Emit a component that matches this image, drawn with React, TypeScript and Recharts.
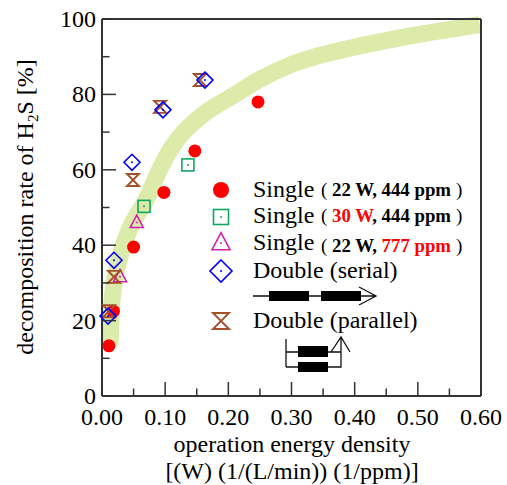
import { ComposedChart, Line, Scatter, XAxis, YAxis } from "recharts";

const xTicks = [0, 0.05, 0.1, 0.15, 0.2, 0.25, 0.3, 0.35, 0.4, 0.45, 0.5, 0.55, 0.6];
const yTicks = [0, 10, 20, 30, 40, 50, 60, 70, 80, 90, 100];

const bandX = [0.0127, 0.016, 0.025, 0.041, 0.0697, 0.0934, 0.1077, 0.155, 0.207, 0.25, 0.298, 0.393, 0.472, 0.598];
const bandY = [13.5, 25.5, 34.7, 43.2, 52, 60.8, 65.2, 74, 79.6, 84, 87.8, 92.3, 95, 98.5];

const single22X = [0.011, 0.018, 0.05, 0.098, 0.147, 0.247];
const single22Y = [13.3, 22.5, 39.5, 54, 65, 78];
const single30X = [0.0665, 0.136];
const single30Y = [50.3, 61.3];
const single777X = [0.0285, 0.055];
const single777Y = [31.6, 46];
const serialX = [0.0095, 0.019, 0.0475, 0.0965, 0.163];
const serialY = [21.2, 36, 62, 75.9, 83.8];
const parallelX = [0.011, 0.019, 0.049, 0.092, 0.155];
const parallelY = [22.5, 31.6, 57.3, 76.7, 83.8];

const zip = (xs: number[], ys: number[]) => xs.map((x, i) => ({ x, y: ys[i] }));

const FONT = "'Liberation Serif', serif";
const AXIS = "#333";
const RED = "#ff0000";
const GREEN = "#10a860";
const MAGENTA = "#d020b0";
const BLUE = "#0000ff";
const BROWN = "#a5502a";

function Circle({ cx, cy, r = 6.5 }: any) {
  return <circle cx={cx} cy={cy} r={r} fill={RED} />;
}
function Square({ cx, cy, s = 6 }: any) {
  return (
    <g>
      <rect x={cx - s} y={cy - s} width={s * 2} height={s * 2} fill="none" stroke={GREEN} strokeWidth={1.6} />
      <circle cx={cx} cy={cy} r={1} fill={GREEN} />
    </g>
  );
}
function Triangle({ cx, cy, s = 6.5 }: any) {
  return (
    <g>
      <path d={`M${cx},${cy - s * 1.15}L${cx + s},${cy + s * 0.75}L${cx - s},${cy + s * 0.75}Z`} fill="none" stroke={MAGENTA} strokeWidth={1.6} />
      <circle cx={cx} cy={cy} r={1} fill={MAGENTA} />
    </g>
  );
}
function Diamond({ cx, cy, s = 8 }: any) {
  return (
    <g>
      <path d={`M${cx},${cy - s}L${cx + s},${cy}L${cx},${cy + s}L${cx - s},${cy}Z`} fill="none" stroke={BLUE} strokeWidth={1.6} />
      <circle cx={cx} cy={cy} r={1} fill={BLUE} />
    </g>
  );
}
function Hourglass({ cx, cy, s = 6 }: any) {
  return (
    <path
      d={`M${cx - s},${cy - s}L${cx + s},${cy - s}L${cx - s},${cy + s}L${cx + s},${cy + s}Z`}
      fill="none"
      stroke={BROWN}
      strokeWidth={1.9}
    />
  );
}

const isMajorX = (v: number) => Math.round(v * 100) % 10 === 0;
const isMajorY = (v: number) => v % 20 === 0;

function XTick({ x, y, payload, top }: any) {
  const len = isMajorX(payload.value) ? 14 : 7.5;
  return (
    <g>
      <line x1={x} x2={x} y1={y} y2={top ? y + len : y - len} stroke={AXIS} strokeWidth={1.5} />
      {!top && isMajorX(payload.value) && (
        <text x={x} y={y + 29} textAnchor="middle" fontFamily={FONT} fontSize={24} fill="#000">
          {payload.value.toFixed(2)}
        </text>
      )}
    </g>
  );
}

function YTick({ x, y, payload, right }: any) {
  const len = isMajorY(payload.value) ? 14 : 7.5;
  return (
    <g>
      <line x1={x} x2={right ? x - len : x + len} y1={y} y2={y} stroke={AXIS} strokeWidth={1.5} />
      {!right && isMajorY(payload.value) && (
        <text x={x - 6} y={y + 8} textAnchor="end" fontFamily={FONT} fontSize={24} fill="#000">
          {payload.value}
        </text>
      )}
    </g>
  );
}

function Overlay() {
  const t = { fontFamily: FONT, fontSize: 24, fill: "#000" };
  const b = { fontFamily: FONT, fontSize: 18.8, fontWeight: 700, fill: "#000" };
  const p = { fontFamily: FONT, fontSize: 19, fill: "#000" };
  return (
    <svg width={507} height={485} style={{ position: "absolute", left: 0, top: 0 }}>
      <Circle cx={221} cy={190} r={8} />
      <Square cx={221} cy={217} s={7.5} />
      <Triangle cx={221} cy={243} s={9} />
      <Diamond cx={221} cy={271} s={11} />
      <Hourglass cx={221} cy={321} s={8} />

      <text x={253} y={197} {...t}>Single</text>
      <text x={253} y={223} {...t}>Single</text>
      <text x={253} y={250} {...t}>Single</text>
      <text x={253} y={278} {...t}>Double (serial)</text>
      <text x={253} y={328} {...t}>Double (parallel)</text>

      <text x={321} y={196} {...p}>(</text>
      <text x={332} y={196} {...b}>22 W, 444 ppm</text>
      <text x={456} y={196} {...p}>)</text>
      <text x={321} y={222} {...p}>(</text>
      <text x={332} y={222} {...b}><tspan fill={RED}>30 W</tspan>, 444 ppm</text>
      <text x={456} y={222} {...p}>)</text>
      <text x={321} y={252} {...p}>(</text>
      <text x={332} y={252} {...b}>22 W, <tspan fill={RED}>777 ppm</tspan></text>
      <text x={456} y={252} {...p}>)</text>

      <g stroke="#111" strokeWidth={1.3} fill="none">
        <path d="M253,296H376M359,287L376,296L359,305" />
        <path d="M286,339V367M286,352H298M286,367H341V337M328,352H341M331,352L341,337L350,352" />
      </g>
      <rect x={269} y={291} width={40} height={10} fill="#000" />
      <rect x={321} y={291} width={40} height={10} fill="#000" />
      <rect x={298} y={346} width={30} height={11} fill="#000" />
      <rect x={298} y={362} width={30} height={10} fill="#000" />

      <text x={292} y={452} textAnchor="middle" fontFamily={FONT} fontSize={24} fill="#000">operation energy density</text>
      <text x={292} y={479} textAnchor="middle" fontFamily={FONT} fontSize={24} fill="#000">[(W) (1/(L/min)) (1/ppm)]</text>
      <text transform="translate(33,207) rotate(-90)" textAnchor="middle" fontFamily={FONT} fontSize={24} fill="#000">
        decomposition rate of H<tspan fontSize={15} dy={5}>2</tspan><tspan dy={-5}>S [%]</tspan>
      </text>
    </svg>
  );
}

export default function App() {
  const axisLine = { stroke: AXIS, strokeWidth: 2 };
  return (
    <div style={{ position: "absolute", left: 0, top: 0, width: 507, height: 485 }}>
      <ComposedChart width={507} height={485} margin={{ top: 0, right: 0, bottom: 0, left: 0 }}>
        <XAxis dataKey="x" type="number" domain={[0, 0.6]} ticks={xTicks} interval={0} height={89} tickSize={0} tickMargin={0} tickLine={false} axisLine={axisLine} tick={<XTick />} />
        <XAxis xAxisId="top" orientation="top" dataKey="x" type="number" domain={[0, 0.6]} ticks={xTicks} interval={0} height={19} tickSize={0} tickMargin={0} tickLine={false} axisLine={axisLine} tick={<XTick top />} />
        <YAxis dataKey="y" type="number" domain={[0, 100]} ticks={yTicks} interval={0} width={102} tickSize={0} tickMargin={0} tickLine={false} axisLine={axisLine} tick={<YTick />} />
        <YAxis yAxisId="right" orientation="right" dataKey="y" type="number" domain={[0, 100]} ticks={yTicks} interval={0} width={26} tickSize={0} tickMargin={0} tickLine={false} axisLine={axisLine} tick={<YTick right />} />
        <Line data={zip(bandX, bandY)} dataKey="y" type="monotone" stroke="#dcebaa" strokeWidth={17} dot={false} activeDot={false} isAnimationActive={false} />
        <Scatter data={zip(single22X, single22Y)} dataKey="y" isAnimationActive={false} shape={(p: any) => <Circle cx={p.cx} cy={p.cy} />} />
        <Scatter data={zip(single30X, single30Y)} dataKey="y" isAnimationActive={false} shape={(p: any) => <Square cx={p.cx} cy={p.cy} />} />
        <Scatter data={zip(single777X, single777Y)} dataKey="y" isAnimationActive={false} shape={(p: any) => <Triangle cx={p.cx} cy={p.cy} />} />
        <Scatter data={zip(parallelX, parallelY)} dataKey="y" isAnimationActive={false} shape={(p: any) => <Hourglass cx={p.cx} cy={p.cy} />} />
        <Scatter data={zip(serialX, serialY)} dataKey="y" isAnimationActive={false} shape={(p: any) => <Diamond cx={p.cx} cy={p.cy} />} />
      </ComposedChart>
      <Overlay />
    </div>
  );
}
